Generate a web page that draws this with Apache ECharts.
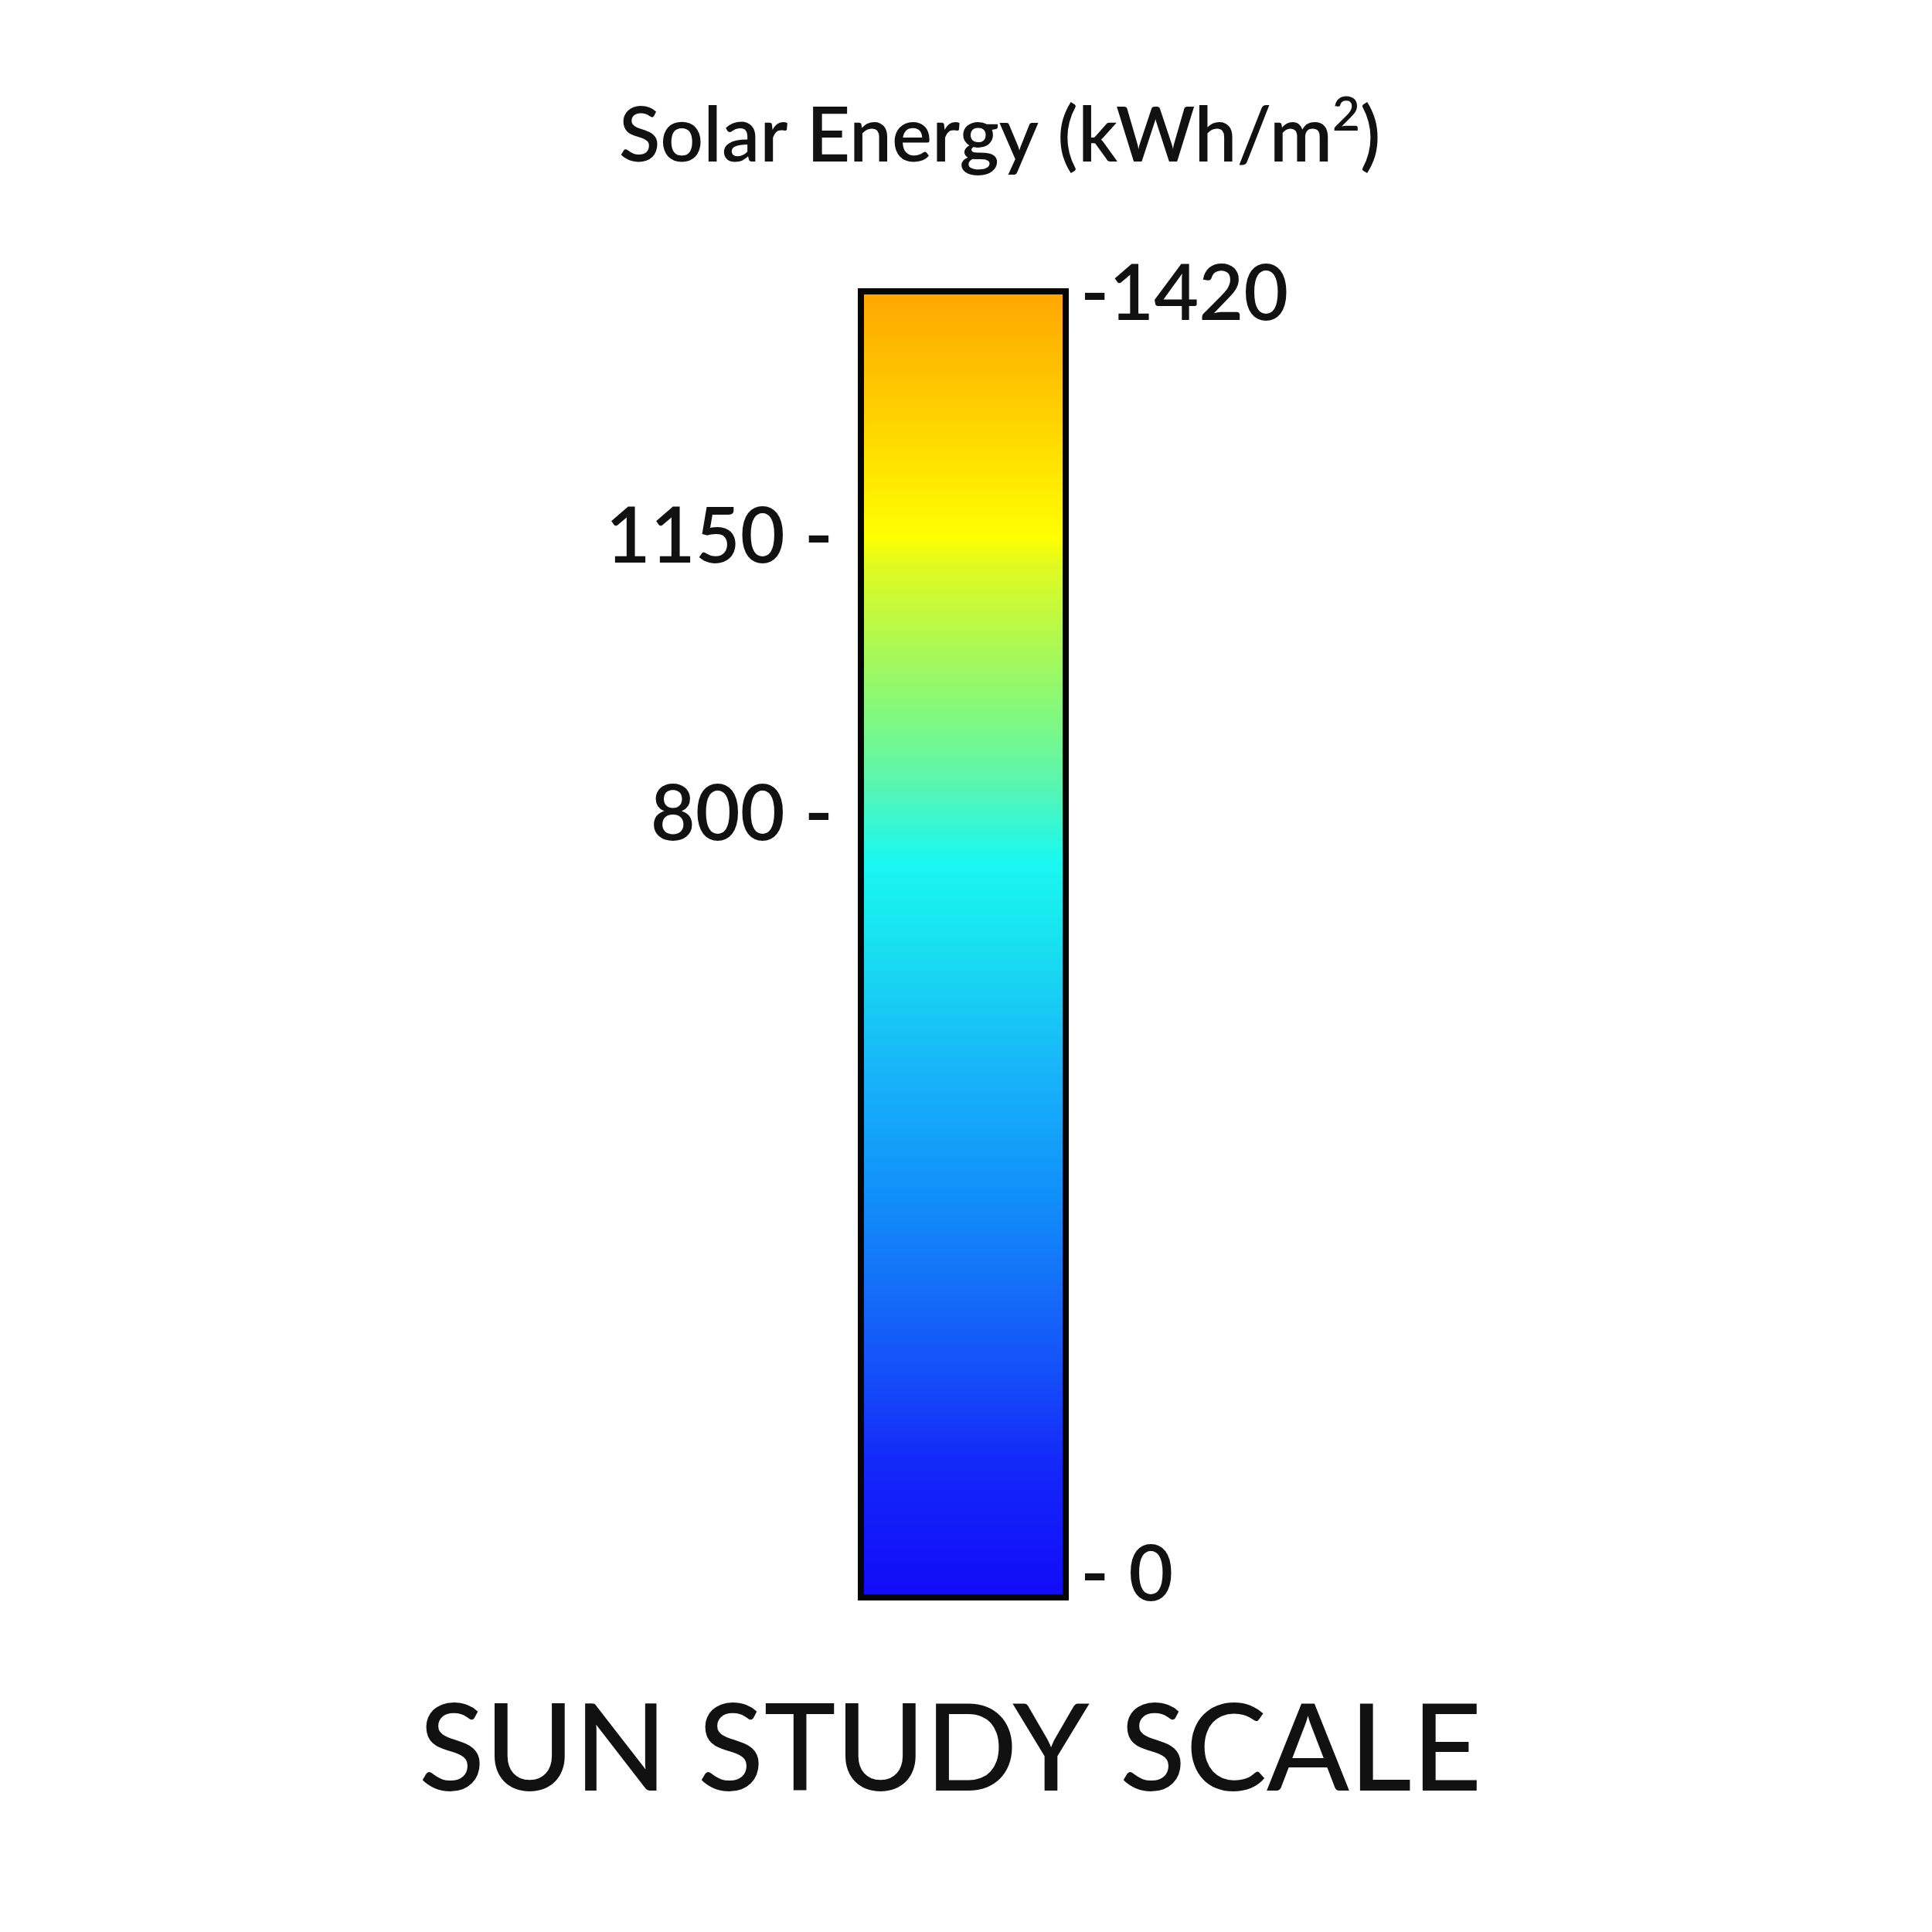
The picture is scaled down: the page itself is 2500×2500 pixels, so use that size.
<!DOCTYPE html>
<html>
<head>
<meta charset="utf-8">
<script src="https://cdn.jsdelivr.net/npm/echarts@6/dist/echarts.min.js"></script>
<style>
html,body{margin:0;padding:0;background:#fff;}
#chart{width:2500px;height:2500px;}
</style>
</head>
<body>
<div id="chart"></div>
<script>
// ---- data ----
const categories = ['Solar Energy'];
const scaleMin = 0;
const scaleMax = 1420;
const barValues = [1420];
const leftTickValues = [800, 1150];
const leftTickLabels = ['800 -', '1150 -'];
const rightTickValues = [0, 1420];
const rightTickLabels = ['- 0', '-1420'];
const stopValues = [0, 150, 250, 345, 440, 585, 710, 800, 885, 955, 1025, 1120, 1150, 1285, 1420];
const stopColors = ['#100AF8', '#1428F8', '#1450F8', '#1470F8', '#1090F8', '#18B8F8', '#18E0F0', '#1AF8F0',
                    '#5AF5B0', '#80F880', '#A8F858', '#E0FA20', '#FFFF00', '#FFD000', '#FFA500'];
const titleTop = 'Solar Energy (kWh/m';
const titleSup = '2';
const titleBottom = 'SUN STUDY SCALE';

// ---- chart ----
const FONT = 'Lato';
const WEIGHT = 600;
const chart = echarts.init(document.getElementById('chart'), null, {renderer: 'canvas'});

const colorStops = stopValues.map((v, i) => ({
  offset: 1 - (v - scaleMin) / (scaleMax - scaleMin),
  color: stopColors[i]
}));

function labelFor(values, labels) {
  return v => {
    const i = values.indexOf(v);
    if (i < 0) return '';
    const t = labels[i];
    if (v === 800) return '{lift800|' + t + '}';
    if (v === 0) return '{lift0|' + t + '}';
    if (v === 1420) return '{drop|' + t + '}';
    return '{n|' + t + '}';
  };
}
const base = {fontFamily: FONT, fontSize: 100, fontWeight: WEIGHT, color: '#111'};
const richTick = {
  n: Object.assign({}, base),
  lift800: Object.assign({}, base, {padding: [0, 0, 120, 0]}),
  lift0: Object.assign({}, base, {padding: [0, 0, 64, 0]}),
  drop: Object.assign({}, base, {padding: [18, 0, 0, 0]})
};

chart.setOption({
  backgroundColor: '#ffffff',
  animation: false,
  title: [
    {
      text: '{a|' + titleTop + '}{s|' + titleSup + '}{a|)}',
      left: 796,
      top: 113,
      textStyle: {
        rich: {
          a: {fontFamily: FONT, fontSize: 98, fontWeight: WEIGHT, color: '#111', verticalAlign: 'bottom'},
          s: {fontFamily: FONT, fontSize: 62, fontWeight: WEIGHT, color: '#111', verticalAlign: 'top', padding: [0, 0, 46, 0]}
        }
      }
    },
    {
      text: titleBottom,
      left: 537,
      top: 2183,
      textStyle: {fontFamily: FONT, fontSize: 157, fontWeight: 500, color: '#111'}
    }
  ],
  grid: {left: 1110, top: 373, width: 273, height: 1698, containLabel: false},
  xAxis: {type: 'category', data: categories, show: false},
  yAxis: [
    {
      type: 'value', position: 'left', min: scaleMin, max: scaleMax,
      axisLine: {show: false}, axisTick: {show: false}, splitLine: {show: false},
      axisLabel: {
        customValues: leftTickValues,
        formatter: labelFor(leftTickValues, leftTickLabels),
        margin: 32, rich: richTick
      }
    },
    {
      type: 'value', position: 'right', min: scaleMin, max: scaleMax,
      axisLine: {show: false}, axisTick: {show: false}, splitLine: {show: false},
      axisLabel: {
        customValues: rightTickValues,
        formatter: labelFor(rightTickValues, rightTickLabels),
        margin: 15, rich: richTick
      }
    }
  ],
  series: [{
    type: 'bar',
    data: barValues,
    barWidth: '100%',
    barCategoryGap: 0,
    itemStyle: {
      color: {type: 'linear', x: 0, y: 0, x2: 0, y2: 1, colorStops: colorStops},
      borderColor: '#050505',
      borderWidth: 8
    },
    emphasis: {disabled: true}
  }]
});
</script>
</body>
</html>
